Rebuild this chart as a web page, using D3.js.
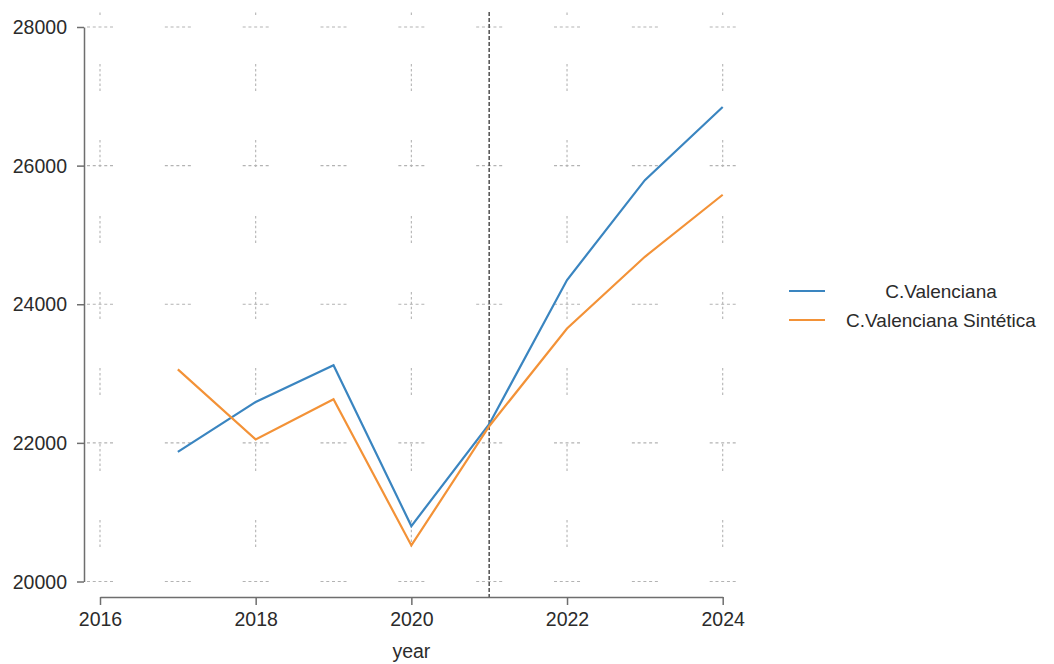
<!DOCTYPE html>
<html>
<head>
<meta charset="utf-8">
<script src="https://cdn.jsdelivr.net/npm/d3@7"></script>
<style>
  html, body { margin: 0; padding: 0; background: #fff; }
  svg { display: block; font-family: "Liberation Sans", Arial, sans-serif; }
</style>
</head>
<body>
<svg id="chart" width="1054" height="664"></svg>
<script>
// ---- data ----
const years = [2017, 2018, 2019, 2020, 2021, 2022, 2023, 2024];
const cValenciana = [21870, 22590, 23120, 20800, 22270, 24350, 25790, 26845];
const cValencianaSintetica = [23060, 22050, 22630, 20520, 22240, 23650, 24685, 25580];
const seriesNames = ["C.Valenciana", "C.Valenciana Sintética"];
const seriesColors = ["#3a85c0", "#f39237"];
const xTicks = [2016, 2018, 2020, 2022, 2024];
const yTicks = [20000, 22000, 24000, 26000, 28000];
const treatmentYear = 2021;
const xLabel = "year";

// ---- layout ----
const svg = d3.select("#chart");
const x = d3.scaleLinear().domain([2016, 2024]).range([100, 722.7]);
const y = d3.scaleLinear().domain([20000, 28000]).range([581.5, 27]);
const plotTop = 12;
const xAxisY = 597;
const yAxisX = 84;
const gridColor = "#b3b3b3";
const fontSize = 19.5;

// ---- grid: horizontal dashed segments centered at each year ----
const step = x(2017) - x(2016);
const segLen = 26;
const hPattern = "3,2.75,3,2.75,3,2.75,3,2.75,3," + (step - segLen + 0.0001).toFixed(3);
svg.append("g").selectAll("line").data(yTicks).join("line")
  .attr("x1", x(2016) - segLen / 2).attr("x2", x(2024) + segLen / 2)
  .attr("y1", d => y(d)).attr("y2", d => y(d))
  .attr("stroke", gridColor).attr("stroke-width", 1.1)
  .attr("stroke-dasharray", hPattern);

// ---- grid: vertical dashed segments at even years ----
const vSeg = 27, vPeriod = 76;
const vPattern = "2.5,2.4,2.5,2.4,2.5,2.4,2.5,2.4,2.5,2.4,2.5," + (vPeriod - vSeg);
svg.append("g").selectAll("line").data(xTicks).join("line")
  .attr("x1", d => x(d)).attr("x2", d => x(d))
  .attr("y1", plotTop).attr("y2", y(20000))
  .attr("stroke", gridColor).attr("stroke-width", 1.1)
  .attr("stroke-dasharray", vPattern)
  .attr("stroke-dashoffset", 24);

// ---- treatment reference line ----
svg.append("line")
  .attr("x1", x(treatmentYear)).attr("x2", x(treatmentYear))
  .attr("y1", plotTop).attr("y2", xAxisY)
  .attr("stroke", "#5a5a5a").attr("stroke-width", 1.6)
  .attr("stroke-dasharray", "4,2");

// ---- axes ----
const yAxis = d3.axisLeft(y).tickValues(yTicks).tickSize(7).tickSizeOuter(0).tickPadding(10)
  .tickFormat(d3.format("d"));
const gy = svg.append("g").attr("transform", `translate(${yAxisX},0)`).call(yAxis);
const xAxis = d3.axisBottom(x).tickValues(xTicks).tickSize(8).tickSizeOuter(0).tickPadding(7)
  .tickFormat(d3.format("d"));
const gx = svg.append("g").attr("transform", `translate(0,${xAxisY})`).call(xAxis);
[gx, gy].forEach(g => {
  g.select(".domain").attr("stroke", "#6e6e6e").attr("stroke-width", 1.5);
  g.selectAll(".tick line").attr("stroke", "#6e6e6e").attr("stroke-width", 1.5);
  g.selectAll(".tick text").attr("fill", "#2b2b2b")
    .style("font-size", fontSize + "px").style("font-family", "Liberation Sans, Arial, sans-serif");
});
gy.selectAll(".tick text").attr("dy", "0.34em");

svg.append("text")
  .attr("x", x(2020)).attr("y", 658)
  .attr("text-anchor", "middle")
  .attr("fill", "#2b2b2b")
  .style("font-size", fontSize + "px")
  .text(xLabel);

// ---- series lines ----
const series = [cValenciana, cValencianaSintetica];
const line = d3.line().x((d, i) => x(years[i])).y(d => y(d));
svg.append("g").selectAll("path").data(series).join("path")
  .attr("d", d => line(d))
  .attr("fill", "none")
  .attr("stroke", (d, i) => seriesColors[i])
  .attr("stroke-width", 2.2)
  .attr("stroke-linejoin", "miter");

// ---- legend ----
const legend = svg.append("g");
const legY = [291, 320];
seriesNames.forEach((name, i) => {
  legend.append("line")
    .attr("x1", 789).attr("x2", 825)
    .attr("y1", legY[i]).attr("y2", legY[i])
    .attr("stroke", seriesColors[i]).attr("stroke-width", 2.2);
  legend.append("text")
    .attr("x", 941).attr("y", legY[i]).attr("dy", "0.35em")
    .attr("text-anchor", "middle")
    .attr("fill", "#2b2b2b")
    .style("font-size", "19px")
    .text(name);
});
</script>
</body>
</html>
